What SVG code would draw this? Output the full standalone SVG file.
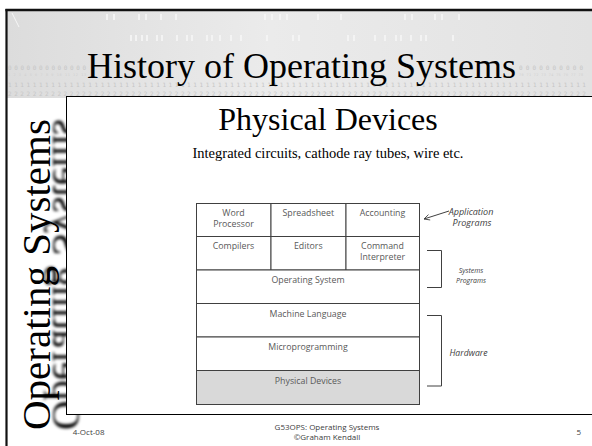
<svg xmlns="http://www.w3.org/2000/svg" width="592" height="446" viewBox="0 0 592 446">
  <defs>
    <linearGradient id="headBg" x1="0" y1="0" x2="1" y2="0">
      <stop offset="0" stop-color="#dcdcdc"/>
      <stop offset="0.45" stop-color="#ebebeb"/>
      <stop offset="1" stop-color="#e2e2e2"/>
    </linearGradient>
    <linearGradient id="reflFade" gradientUnits="userSpaceOnUse" x1="0" y1="0" x2="0" y2="-17">
      <stop offset="0" stop-color="#9a9a9a" stop-opacity="0.6"/>
      <stop offset="1" stop-color="#9a9a9a" stop-opacity="0"/>
    </linearGradient>
    <filter id="soft" x="-10%" y="-50%" width="120%" height="200%">
      <feGaussianBlur stdDeviation="1.4"/>
    </filter>
    <marker id="openArrow" viewBox="0 0 10 10" refX="9" refY="5" markerWidth="7" markerHeight="7" orient="auto" markerUnits="userSpaceOnUse">
      <path d="M1,1 L9,5 L1,9" fill="none" stroke="#404040" stroke-width="1.2"/>
    </marker>
    <style>
      .frame { stroke: #111; fill: none; }
      .digits { font-family: "DejaVu Sans Mono", monospace; font-size: 6px; fill: #c6c6c6; }
      .tiny { font-family: "DejaVu Sans Mono", monospace; font-size: 3.5px; fill: #d0d0d0; }
      .hole { fill: #f6f6f6; opacity: 0.85; }
      .serif { font-family: "Liberation Serif", "Times New Roman", serif; fill: #000; }
      .cell { fill: #fff; stroke: #404040; stroke-width: 1; }
      .shaded { fill: #d9d9d9; }
      .lbl { font-family: "Open Sans", "Noto Sans", sans-serif; font-size: 8.8px; fill: #595959; text-anchor: middle; }
      .side { font-family: "Open Sans", "Noto Sans", sans-serif; font-style: italic; fill: #404040; text-anchor: middle; }
      .conn { fill: none; stroke: #404040; stroke-width: 1; }
      .foot { font-family: "Open Sans", "Noto Sans", sans-serif; font-size: 8px; fill: #404040; }
    </style>
  </defs>

  <!-- page background -->
  <rect x="0" y="0" width="592" height="446" fill="#fff"/>

  <!-- punched-card header band -->
  <g id="header">
    <rect x="7" y="10" width="585" height="88" fill="url(#headBg)"/>
    <line x1="12" y1="13" x2="19" y2="27" stroke="#f6f6f6" stroke-width="1"/>
    <!-- punched slots, upper rows -->
    <g class="hole">
      <rect x="106" y="14" width="2" height="6"/><rect x="113" y="14" width="2" height="6"/>
      <rect x="138" y="14" width="2" height="6"/><rect x="145" y="14" width="2" height="6"/>
      <rect x="160" y="14" width="2" height="6"/><rect x="175" y="14" width="2" height="6"/>
      <rect x="264" y="14" width="2" height="6"/><rect x="271" y="14" width="2" height="6"/>
      <rect x="279" y="14" width="2" height="6"/><rect x="286" y="14" width="2" height="6"/>
      <rect x="317" y="14" width="2" height="6"/><rect x="340" y="14" width="2" height="6"/>
      <rect x="404" y="14" width="2" height="6"/><rect x="411" y="14" width="2" height="6"/>
      <rect x="434" y="14" width="2" height="6"/><rect x="441" y="14" width="2" height="6"/>
      <rect x="458" y="14" width="2" height="6"/>
      <rect x="130" y="35" width="2" height="6"/><rect x="135" y="35" width="2" height="6"/>
      <rect x="141" y="35" width="2" height="6"/><rect x="146" y="35" width="2" height="6"/>
      <rect x="156" y="35" width="2" height="6"/><rect x="161" y="35" width="2" height="6"/>
      <rect x="176" y="35" width="2" height="6"/><rect x="186" y="35" width="2" height="6"/>
      <rect x="191" y="35" width="2" height="6"/><rect x="206" y="35" width="2" height="6"/>
      <rect x="211" y="35" width="2" height="6"/><rect x="219" y="35" width="2" height="6"/>
      <rect x="230" y="35" width="2" height="6"/><rect x="240" y="35" width="2" height="6"/>
      <rect x="266" y="35" width="2" height="6"/><rect x="292" y="35" width="2" height="6"/>
      <rect x="298" y="35" width="2" height="6"/><rect x="347" y="35" width="2" height="6"/>
      <rect x="353" y="35" width="2" height="6"/><rect x="374" y="35" width="2" height="6"/>
      <rect x="384" y="35" width="2" height="6"/><rect x="395" y="35" width="2" height="6"/>
      <rect x="400" y="35" width="2" height="6"/><rect x="410" y="35" width="2" height="6"/>
      <rect x="420" y="35" width="2" height="6"/><rect x="425" y="35" width="2" height="6"/>
      <rect x="452" y="35" width="2" height="6"/>
    </g>
    <!-- printed digit rows -->
    <text class="digits" x="8" y="70" textLength="78">0000000000000</text>
    <text class="digits" x="519" y="70" textLength="64">0000000000</text>
    <text class="tiny" x="8" y="76" textLength="78">1 2 3 4 5 6 7 8 9 10 11 12 13</text>
    <text class="tiny" x="519" y="76" textLength="64">70 71 72 73 74 75 76 77 78</text>
    <text class="digits" x="8" y="87" textLength="578">1111111111111111111111111111111111111111111111111111111111111111111111111111111111111111111111</text>
    <text class="digits" x="8" y="96" textLength="578">2222222222222222222222222222222222222222222222222222222222222222222222222222222222222222222222</text>
    <text class="serif" x="301.5" y="78" font-size="36" text-anchor="middle">History of Operating Systems</text>
  </g>

  <!-- vertical side title with its faded reflection -->
  <g id="side-title">
    <text class="serif" transform="translate(53,430) rotate(-90) scale(1,-1)" font-size="41" fill="url(#reflFade)" filter="url(#soft)">Operating Systems</text>
    <text class="serif" transform="translate(50,430) rotate(-90)" font-size="41">Operating Systems</text>
  </g>

  <!-- slide frame and content panel -->
  <line class="frame" x1="6.5" y1="9" x2="6.5" y2="446" stroke-width="2.2"/>
  <line class="frame" x1="5.4" y1="10" x2="592" y2="10" stroke-width="2.5"/>
  <rect x="66.5" y="96.5" width="540" height="318" fill="#fff" stroke="#000" stroke-width="1"/>

  <g id="heading">
    <text class="serif" x="328" y="130" font-size="32" text-anchor="middle">Physical Devices</text>
    <text class="serif" x="328" y="158" font-size="14.5" text-anchor="middle" fill="#1a1a1a">Integrated circuits, cathode ray tubes, wire etc.</text>
  </g>

  <!-- layered system stack -->
  <g id="word-processor">
    <rect class="cell" x="196.5" y="203.5" width="74.5" height="33"/>
    <text class="lbl" x="233.5" y="215.8">Word</text>
    <text class="lbl" x="233.5" y="226.8">Processor</text>
  </g>
  <g id="spreadsheet">
    <rect class="cell" x="271" y="203.5" width="75" height="33"/>
    <text class="lbl" x="308.3" y="215.8">Spreadsheet</text>
  </g>
  <g id="accounting">
    <rect class="cell" x="346" y="203.5" width="73.5" height="33"/>
    <text class="lbl" x="382.5" y="215.8">Accounting</text>
  </g>
  <g id="compilers">
    <rect class="cell" x="196.5" y="236.5" width="74.5" height="33.5"/>
    <text class="lbl" x="233.5" y="249.3">Compilers</text>
  </g>
  <g id="editors">
    <rect class="cell" x="271" y="236.5" width="75" height="33.5"/>
    <text class="lbl" x="308.3" y="249.3">Editors</text>
  </g>
  <g id="command-interpreter">
    <rect class="cell" x="346" y="236.5" width="73.5" height="33.5"/>
    <text class="lbl" x="382.5" y="249.3">Command</text>
    <text class="lbl" x="382.5" y="260.3">Interpreter</text>
  </g>
  <g id="operating-system">
    <rect class="cell" x="196.5" y="270" width="223" height="33.5"/>
    <text class="lbl" x="308" y="283">Operating System</text>
  </g>
  <g id="machine-language">
    <rect class="cell" x="196.5" y="303.5" width="223" height="33.5"/>
    <text class="lbl" x="308" y="316.7">Machine Language</text>
  </g>
  <g id="microprogramming">
    <rect class="cell" x="196.5" y="337" width="223" height="33.5"/>
    <text class="lbl" x="308" y="350">Microprogramming</text>
  </g>
  <g id="physical-devices">
    <rect class="cell shaded" x="196.5" y="370.5" width="223" height="34"/>
    <text class="lbl" x="308" y="384">Physical Devices</text>
  </g>

  <!-- annotation labels -->
  <g id="application-programs">
    <text class="side" x="471" y="215" font-size="9">Application</text>
    <text class="side" x="472" y="226" font-size="9">Programs</text>
  </g>
  <g id="systems-programs">
    <text class="side" x="471" y="272.7" font-size="7">Systems</text>
    <text class="side" x="471" y="283.3" font-size="7">Programs</text>
  </g>
  <g id="hardware">
    <text class="side" x="468.5" y="356" font-size="8.7">Hardware</text>
  </g>

  <g id="connectors">
    <line class="conn" x1="449" y1="211" x2="424" y2="219" marker-end="url(#openArrow)"/>
    <path class="conn" d="M427,250.5 H441.5 V287.5 H427"/>
    <path class="conn" d="M427,315.5 H441.5 V386 H427"/>
  </g>

  <!-- footer -->
  <g id="footer">
    <text class="foot" x="72.7" y="435">4-Oct-08</text>
    <text class="foot" x="327" y="429.5" text-anchor="middle">G53OPS: Operating Systems</text>
    <text class="foot" x="327" y="440" text-anchor="middle">©Graham Kendall</text>
    <text class="foot" x="576.5" y="435">5</text>
  </g>
</svg>
